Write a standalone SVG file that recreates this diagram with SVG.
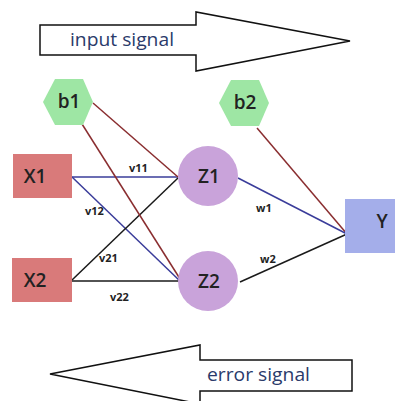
<svg xmlns="http://www.w3.org/2000/svg" width="395" height="401" viewBox="0 0 395 401">
<style>
.arrow{fill:#fff;stroke:#111;stroke-width:1.5;stroke-linejoin:miter}
.sig{font-family:"Open Sans","Liberation Sans",sans-serif;font-size:18px;fill:#2a3a6a}
.hex{fill:#9ee6a4}
.xin{fill:#d97a7a}
.z{fill:#c9a3da}
.y{fill:#a4aeea}
.nl{font-family:"Open Sans","Liberation Sans",sans-serif;font-size:19px;font-weight:600;fill:#222;text-anchor:middle;dominant-baseline:central}
.el{font-family:"Open Sans","Liberation Sans",sans-serif;font-size:11px;font-weight:bold;fill:#222}
.blue{stroke:#3a3c9a;stroke-width:1.5}
.red{stroke:#8a2e30;stroke-width:1.5}
.blk{stroke:#1a1a1a;stroke-width:1.5}
</style>
<g id="input-signal">
<polygon class="arrow" points="40,25 196,25 196,12 350,41 196,71 196,55 40,55"/>
<text class="sig" x="70" y="46" textLength="104" lengthAdjust="spacingAndGlyphs">input signal</text>
</g>
<g id="error-signal">
<polygon class="arrow" points="352,360 200,360 200,345 50,374 200,404 200,391 352,391"/>
<text class="sig" x="207" y="381" textLength="103" lengthAdjust="spacingAndGlyphs">error signal</text>
</g>
<g id="connectors">
<line class="blue" x1="72" y1="177" x2="178" y2="177"/>
<line class="blue" x1="72" y1="177" x2="181" y2="282"/>
<line class="blk" x1="72" y1="280" x2="178" y2="178"/>
<line class="blk" x1="72" y1="281" x2="181" y2="281"/>
<line class="red" x1="93" y1="103" x2="178" y2="177"/>
<line class="red" x1="82" y1="124" x2="182" y2="282"/>
<line class="red" x1="257" y1="128" x2="347" y2="234"/>
<line class="blue" x1="238" y1="178" x2="347" y2="234"/>
<line class="blk" x1="240" y1="282" x2="347" y2="234"/>
<text class="el" x="129" y="172">v11</text>
<text class="el" x="85" y="215">v12</text>
<text class="el" x="99" y="262">v21</text>
<text class="el" x="110" y="301">v22</text>
<text class="el" x="256" y="212">w1</text>
<text class="el" x="260" y="263">w2</text>
</g>
<g id="b1">
<polygon class="hex" points="55,79 83,79 93,102 83,125 55,125 43,102"/>
<text class="nl" x="69" y="101">b1</text>
</g>
<g id="b2">
<polygon class="hex" points="231,80 259,80 269,103 259,126 231,126 219,103"/>
<text class="nl" x="245" y="102">b2</text>
</g>
<g id="X1">
<rect class="xin" x="13" y="154" width="59" height="44"/>
<text class="nl" x="35" y="176">X1</text>
</g>
<g id="X2">
<rect class="xin" x="12" y="258" width="60" height="44"/>
<text class="nl" x="35" y="280">X2</text>
</g>
<g id="Z1">
<circle class="z" cx="208" cy="176" r="30"/>
<text class="nl" x="209" y="176">Z1</text>
</g>
<g id="Z2">
<circle class="z" cx="208" cy="281" r="30"/>
<text class="nl" x="209" y="281">Z2</text>
</g>
<g id="Y">
<rect class="y" x="345" y="199" width="50" height="54"/>
<text class="nl" x="382" y="221">Y</text>
</g>
</svg>
